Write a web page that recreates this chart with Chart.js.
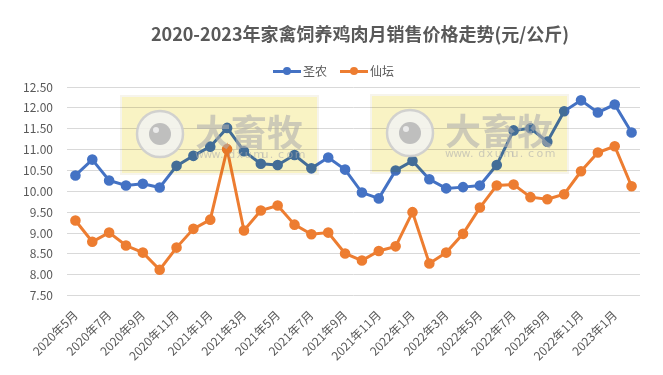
<!DOCTYPE html>
<html><head><meta charset="utf-8">
<script src="https://cdn.jsdelivr.net/npm/chart.js@4"></script>
<style>
body{margin:0;background:#fff;}
#wrap{position:relative;width:663px;height:375px;overflow:hidden;}
#title{position:absolute;top:20px;left:0;width:663px;box-sizing:border-box;padding-left:57px;text-align:center;font:bold 18px 'Noto Sans CJK SC',sans-serif;color:#595959;line-height:26px;white-space:nowrap;z-index:2;}
.leg{position:absolute;top:63px;height:16px;font:12px 'Noto Sans CJK SC',sans-serif;color:#595959;line-height:16px;z-index:2;white-space:nowrap;}
.sw{position:absolute;top:6.5px;left:0;width:28px;height:3px;}
.dot{position:absolute;top:4px;left:10px;width:8px;height:8px;border-radius:50%;}
.lt{position:absolute;left:30px;top:0;}
canvas{position:absolute;left:0;top:0;}
</style>
</head><body>
<div id="wrap">
<canvas id="c" width="663" height="375"></canvas>
<div id="title">2020-2023年家禽饲养鸡肉月销售价格走势(元/公斤)</div>
<div class="leg" style="left:273px"><div class="sw" style="background:#4472C4"></div><div class="dot" style="background:#4472C4"></div><span class="lt">圣农</span></div>
<div class="leg" style="left:340px"><div class="sw" style="background:#ED7D31"></div><div class="dot" style="background:#ED7D31"></div><span class="lt">仙坛</span></div>
</div>
<script>
const months = ['2020年5月','2020年6月','2020年7月','2020年8月','2020年9月','2020年10月','2020年11月','2020年12月',
'2021年1月','2021年2月','2021年3月','2021年4月','2021年5月','2021年6月','2021年7月','2021年8月','2021年9月','2021年10月','2021年11月','2021年12月',
'2022年1月','2022年2月','2022年3月','2022年4月','2022年5月','2022年6月','2022年7月','2022年8月','2022年9月','2022年10月','2022年11月','2022年12月',
'2023年1月','2023年2月'];
const shengnong = [10.38,10.76,10.26,10.14,10.18,10.09,10.61,10.85,11.07,11.52,10.96,10.66,10.63,10.87,10.55,10.81,10.52,9.97,9.83,10.50,10.73,10.29,10.07,10.10,10.14,10.63,11.46,11.51,11.19,11.92,12.18,11.89,12.08,11.41];
const xiantan = [9.30,8.79,9.01,8.70,8.53,8.12,8.65,9.10,9.32,11.01,9.06,9.54,9.66,9.20,8.97,9.01,8.51,8.34,8.57,8.68,9.50,8.27,8.53,8.98,9.61,10.14,10.16,9.86,9.81,9.93,10.48,10.93,11.08,10.12];
const yTicks = ['7.50','8.00','8.50','9.00','9.50','10.00','10.50','11.00','11.50','12.00','12.50'];

const whiteBg = {
  id:'bg',
  beforeDraw(chart){
    const ctx=chart.ctx;
    ctx.save();
    ctx.fillStyle='#ffffff';
    ctx.fillRect(0,0,chart.width,chart.height);
    ctx.restore();
  }
};

const watermark = {
  id:'wm',
  afterDatasetsDraw(chart){
    const ctx = chart.ctx;
    [[122,97],[372,96]].forEach(([x,y])=>{
      const w=195,h=76;
      ctx.save();
      ctx.globalCompositeOperation='multiply';
      ctx.fillStyle='rgb(249,243,196)';
      ctx.fillRect(x,y,w,h);
      ctx.fillStyle='rgb(246,244,236)';
      ctx.fillRect(x-2,y-2,w+4,2);
      ctx.fillRect(x-2,y+h,w+4,2);
      ctx.fillRect(x-2,y,2,h);
      ctx.fillRect(x+w,y,2,h);
      ctx.restore();
      ctx.save();
      const cx=x+38, cy=y+37;
      ctx.beginPath();ctx.arc(cx,cy,23,0,Math.PI*2);
      ctx.fillStyle='rgba(242,242,242,0.85)';ctx.fill();
      ctx.lineWidth=2.5;ctx.strokeStyle='rgba(205,205,205,0.9)';ctx.stroke();
      ctx.beginPath();ctx.arc(cx,cy,11,0,Math.PI*2);
      ctx.fillStyle='rgba(185,185,185,0.9)';ctx.fill();
      ctx.beginPath();ctx.arc(cx-4,cy-4,3,0,Math.PI*2);
      ctx.fillStyle='rgba(238,238,238,0.9)';ctx.fill();
      ctx.fillStyle='rgba(175,175,175,0.6)';
      ctx.font='bold 36px "Noto Sans CJK SC"';
      ctx.textBaseline='middle';
      ctx.textAlign='left';
      ctx.fillText('大畜牧',x+73,y+35);
      ctx.font='11px "DejaVu Sans"';
      const s='www.dxumu.com', step=108/s.length;
      for(let i=0;i<s.length;i++){ ctx.fillText(s[i], x+73+i*step, y+58); }
      ctx.restore();
    });
  }
};

new Chart(document.getElementById('c'),{
  type:'line',
  data:{labels:months,datasets:[
    {label:'圣农',data:shengnong,borderColor:'#4472C4',backgroundColor:'#4472C4',borderWidth:3,pointRadius:3.8,pointHoverRadius:3.8,tension:0},
    {label:'仙坛',data:xiantan,borderColor:'#ED7D31',backgroundColor:'#ED7D31',borderWidth:3,pointRadius:3.8,pointHoverRadius:3.8,tension:0}
  ]},
  options:{
    responsive:false,animation:false,
    layout:{autoPadding:false,padding:{top:87,left:0,right:23,bottom:8}},
    plugins:{legend:{display:false},title:{display:false},tooltip:{enabled:false}},
    scales:{
      x:{offset:true,grid:{display:false},border:{display:false},
        afterFit:(s)=>{s.paddingLeft=0;s.paddingRight=0;},
        ticks:{autoSkip:false,maxRotation:45,minRotation:45,padding:4,color:'#595959',font:{family:"'Noto Sans CJK SC'",size:12},
          callback:(v,i)=> i%2===0 ? months[i] : ''}},
      y:{min:7.5,max:12.5,grid:{color:'#d9d9d9',drawTicks:false},border:{display:false},
        afterFit:(s)=>{s.width=67;},
        ticks:{stepSize:0.5,padding:14,color:'#595959',font:{family:"'Noto Sans CJK SC'",size:12},
          callback:(v)=>{const t=Number(v).toFixed(2);return yTicks.includes(t)?t:'';}}}
    }
  },
  plugins:[whiteBg, watermark]
});
</script>
</body></html>
